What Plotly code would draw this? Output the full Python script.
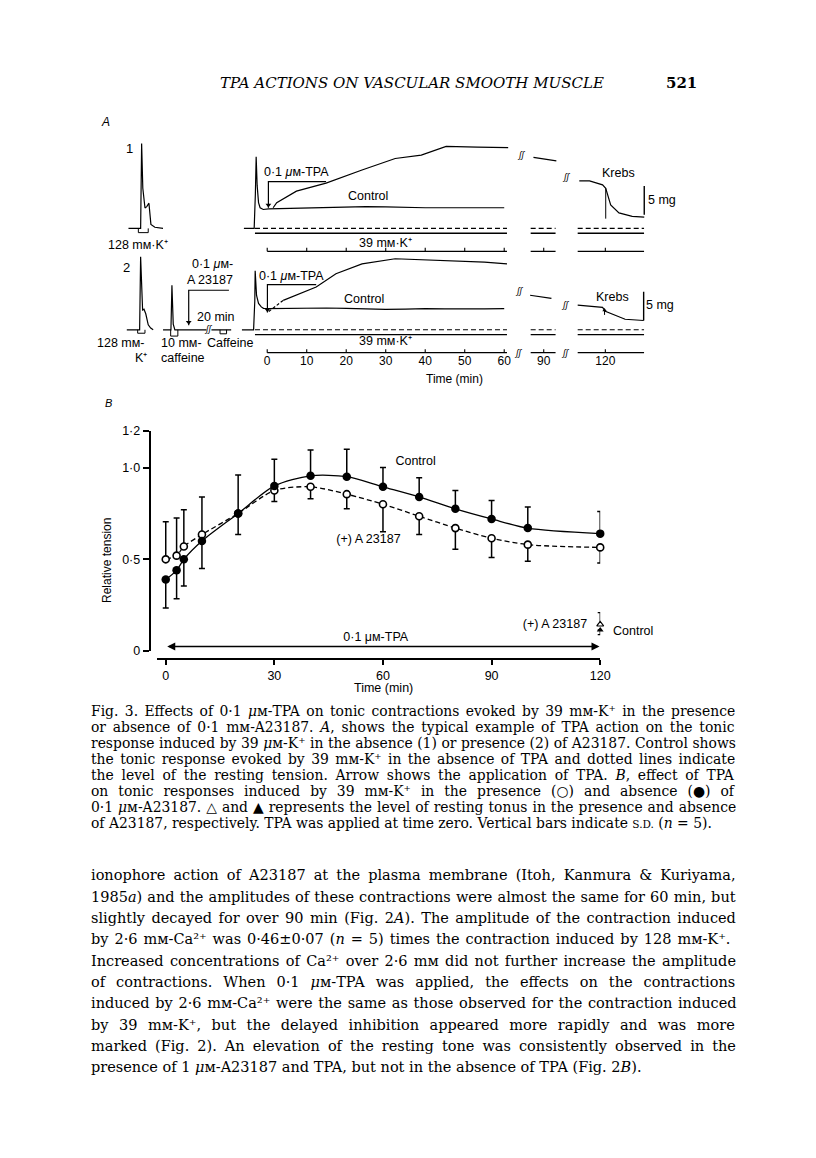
import re
import plotly.graph_objects as go

W, H = 816, 1158
PAD = 8                      # default page margin around the plot div
FW, FH = W - 2 * PAD, H - 2 * PAD
SANS = "Liberation Sans, Arial, sans-serif"
SERIF = "DejaVu Serif, serif"

# ---------------- Panel B: relative tension vs time ----------------
times = [0, 3, 5, 10, 20, 30, 40, 50, 60, 70, 80, 90, 100, 120]
control = [0.39, 0.44, 0.50, 0.60, 0.75, 0.90, 0.955, 0.95, 0.895, 0.84, 0.775, 0.72, 0.67, 0.64]
control_sd_up = [0, 0, 0, 0, 0, 0.145, 0.14, 0.15, 0.105, 0.105, 0.10, 0.10, 0.115, 0.12]
control_sd_down = [0.155, 0.155, 0.145, 0.15, 0.115, 0, 0, 0, 0, 0, 0, 0, 0, 0]
a23187 = [0.50, 0.52, 0.57, 0.635, 0.75, 0.875, 0.895, 0.855, 0.80, 0.735, 0.67, 0.615, 0.58, 0.565]
a23187_sd_up = [0.205, 0.205, 0.20, 0.205, 0.21, 0, 0, 0, 0, 0, 0, 0, 0, 0]
a23187_sd_down = [0, 0, 0, 0, 0, 0.06, 0.065, 0.08, 0.15, 0.10, 0.115, 0.105, 0.09, 0.085]

rest_time = [120]
rest_a23187 = [0.145]
rest_a23187_sd = [0.065]
rest_control = [0.115]
rest_control_sd = [0.025]

tpa_span = [0, 119.8]
tpa_level = 0.025

# ---------------- Panel A: chart records (time in min, tension in mg) ----------------
# row 1: without A23187, row 2: with A23187
r1_main_t = [-5.9, -3.3, -3.0, -2.8, -2.55, -2.2, -1.8, -1.0, 0.3, 5, 10, 15, 20, 25, 30, 35, 40, 45, 50, 55, 60]
r1_main_mg = [0, 0, 6, 12.5, 7.5, 4.5, 3.6, 3.3, 3.4, 3.5, 3.55, 3.6, 3.7, 3.8, 3.75, 3.65, 3.6, 3.6, 3.65, 3.6, 3.6]
r1_tpa_t = [1.5, 2.4, 7.4, 14.9, 24, 32.4, 39, 45.3, 53.2, 59, 61]
r1_tpa_mg = [3.6, 4.5, 6.5, 7.9, 10.2, 12.2, 12.8, 14.3, 14.2, 14.2, 14.1]
r1_late1_t = [87.4, 93.2]
r1_late1_mg = [12.4, 11.8]
r1_late2_t = [113.4, 116, 119.3, 120.1, 121.35, 123.45, 126.8, 129.85]
r1_late2_mg = [8.3, 8.3, 7.6, 7.0, 4.1, 2.7, 2.1, 1.95]

r2_main_t = [-6.4, -3.45, -3.15, -3.05, -2.7, -2.2, -1.5, -0.95, 0.1, 5, 10, 15, 20, 25, 30, 35, 40, 45, 50, 55, 60]
r2_main_mg = [0, 0, 5, 10.3, 6, 4.6, 4.0, 3.74, 3.7, 3.75, 3.7, 3.8, 3.75, 3.6, 3.55, 3.6, 3.7, 3.65, 3.6, 3.65, 3.7]
r2_tpa_early_t = [0.4, 4.05]
r2_tpa_early_mg = [3.2, 5.14]
r2_tpa_t = [4.05, 8, 12.4, 17.4, 24, 32.4, 40.6, 49, 55, 60.7]
r2_tpa_mg = [5.14, 6.2, 7.48, 9.78, 11.5, 12.4, 12.2, 11.97, 11.8, 11.5]
r2_late1_t = [86.55, 91.95]
r2_late1_mg = [6.03, 5.47]
r2_late2_t = [113, 119.3, 120, 121.8, 125, 129.7]
r2_late2_mg = [4.31, 3.91, 3.22, 2.7, 1.84, 1.62]

# short-time records on the left (min from start of each record)
k128_1_t = [0, 3.08, 3.33, 3.63, 4.18, 4.63, 5.18, 5.38, 5.68, 6.68, 8.75]
k128_1_mg = [0, 0, 14.8, 7, 3.56, 3.8, 4.4, 2.5, 0.7, 0.2, 0]
k128_2_t = [0, 3.25, 3.5, 3.75, 4.0, 4.35, 4.8, 5.43, 6.05, 6.68]
k128_2_mg = [0, 0, 12.76, 7, 3.45, 3.6, 2.8, 0.86, 0.3, 0]
caff_t = [0, 2, 2.25, 2.58, 3, 11]
caff_mg = [0, 0, 7.76, 1.0, 0, 0]
caff_tail_t = [12.25, 17.25]
caff_tail_mg = [0, 0]

rec_segments = [(-3.1, 60.7), (86.7, 93.0), (113.0, 129.8)]
axis_segments = [(0, 60.7), (86.7, 93.0), (113.0, 129.8)]
axis_ticks = [0, 10, 20, 30, 40, 50, 60, 90, 120]

# ---------------- geometry ----------------
ROW1 = 17.7               # row 1 resting level (mg) above row 2 resting level
A_X0, A_PX = 270.5, 4.0   # panel A: page pixel of t=0 and pixels per min
A_Y0, A_PY = 326.7, 5.8   # panel A: page pixel of row 2 rest and pixels per mg


def fx(px):
    return (px - PAD) / FW


def fy(py):
    return 1 - (py - PAD) / FH


def tx(t):
    # chart breaks between 60-90 and 90-120 min
    if t <= 65:
        return t
    if t <= 100:
        return t - 20
    return t - 34.4


fig = go.Figure()
INK = "black"


def rec(ts, mgs, base=0.0, off=None, width=1.2, dash=None):
    xs = [(off + t) if off is not None else tx(t) for t in ts]
    fig.add_trace(go.Scatter(x=xs, y=[m + base for m in mgs], mode="lines",
                             line=dict(color=INK, width=width, dash=dash),
                             xaxis="x2", yaxis="y2", hoverinfo="skip"))


def box(off, t0, t1, depth, base=0.0):
    rec([t0, t0, t1, t1], [0, -depth, -depth, 0], base=base, off=off, width=1.0)


def bracket(ts, mgs, base=0.0, off=None):
    rec(ts, mgs, base=base, off=off, width=1.2)
    x = (off + ts[-1]) if off is not None else tx(ts[-1])
    fig.add_trace(go.Scatter(x=[x], y=[mgs[-1] + base + 0.5], mode="markers",
                             marker=dict(symbol="triangle-down", size=5, color=INK),
                             xaxis="x2", yaxis="y2", hoverinfo="skip"))


for base in (ROW1, 0.0):
    # resting (dotted) and K+ application lines
    for a, b in rec_segments:
        rec([a, b], [0, 0], base=base, width=1.1, dash="5px,3px")
        rec([a, b], [-0.85, -0.85], base=base, width=1.3)
    # time scale
    for a, b in axis_segments:
        rec([a, b], [-4.0, -4.0], base=base, width=1.3)
    xs, ys = [], []
    for t in axis_ticks:
        xs += [tx(t), tx(t), None]
        ys += [base - 4.0, base - 3.4, None]
    fig.add_trace(go.Scatter(x=xs, y=ys, mode="lines", line=dict(color=INK, width=1.1),
                             xaxis="x2", yaxis="y2", hoverinfo="skip"))

# row 1
rec(r1_main_t, r1_main_mg, base=ROW1)
rec(r1_tpa_t, r1_tpa_mg, base=ROW1)
rec(r1_late1_t, r1_late1_mg, base=ROW1)
rec(r1_late2_t, r1_late2_mg, base=ROW1)
rec([120.1, 120.1], [7.0, 1.7], base=ROW1, width=1.0)            # Krebs
rec([129.85, 129.85], [2.4, 7.4], base=ROW1, width=1.4)          # 5 mg
bracket([14.9, 0.3, 0.3], [8.16, 8.16, 3.6], base=ROW1)
rec(k128_1_t, k128_1_mg, base=ROW1, off=-35.125)
box(-35.125, 2.5, 5.0, 0.74, base=ROW1)

# row 2
rec(r2_main_t, r2_main_mg)
rec(r2_tpa_early_t, r2_tpa_early_mg, dash="3px,2px")
rec(r2_tpa_t, r2_tpa_mg)
rec(r2_late1_t, r2_late1_mg)
rec(r2_late2_t, r2_late2_mg)
rec([119.8, 119.8], [2.6, 3.7], width=1.0)                        # Krebs
fig.add_trace(go.Scatter(x=[tx(119.8)], y=[3.4], mode="markers",
                         marker=dict(symbol="triangle-up", size=4, color=INK),
                         xaxis="x2", yaxis="y2", hoverinfo="skip"))
rec([129.7, 129.7], [1.62, 6.62], width=1.4)                      # 5 mg
bracket([12.4, 0.05, 0.05], [7.88, 7.88, 3.0])
rec(k128_2_t, k128_2_mg, off=-35.55)
box(-35.55, 2.75, 4.6, 0.6)
rec(caff_t, caff_mg, off=-26.375)
rec(caff_tail_t, caff_tail_mg, off=-26.375)
box(-26.375, 1.93, 3.75, 1.1)
box(-26.375, 14.43, 16.08, 0.7)
bracket([16.68, 6.5, 6.5], [6.9, 6.9, 0.8], off=-26.375)

# row 2 time labels
fig.add_trace(go.Scatter(x=[tx(t) for t in axis_ticks], y=[-5.6] * len(axis_ticks),
                         mode="text", text=[str(t) for t in axis_ticks],
                         textfont=dict(family=SANS, size=12, color=INK),
                         xaxis="x2", yaxis="y2", hoverinfo="skip", cliponaxis=False))

# ---------------- Panel B traces ----------------
fig.add_trace(go.Scatter(
    x=times, y=a23187, mode="lines+markers",
    line=dict(color=INK, width=1.3, dash="5px,3px", shape="spline", smoothing=0.8),
    marker=dict(symbol="circle", size=7, color="white", line=dict(color=INK, width=1.6)),
    error_y=dict(type="data", symmetric=False, array=a23187_sd_up, arrayminus=a23187_sd_down,
                 color=INK, thickness=1.5, width=3),
    cliponaxis=False, hoverinfo="skip"))
fig.add_trace(go.Scatter(
    x=times, y=control, mode="lines+markers",
    line=dict(color=INK, width=1.3, shape="spline", smoothing=0.8),
    marker=dict(symbol="circle", size=8.5, color=INK),
    error_y=dict(type="data", symmetric=False, array=control_sd_up, arrayminus=control_sd_down,
                 color=INK, thickness=1.5, width=3),
    cliponaxis=False, hoverinfo="skip"))
fig.add_trace(go.Scatter(
    x=rest_time, y=rest_a23187, mode="markers",
    marker=dict(symbol="triangle-up", size=6, color="white", line=dict(color=INK, width=1.2)),
    error_y=dict(type="data", symmetric=False, array=rest_a23187_sd, arrayminus=[0],
                 color=INK, thickness=1.3, width=2.5),
    cliponaxis=False, hoverinfo="skip"))
fig.add_trace(go.Scatter(
    x=rest_time, y=rest_control, mode="markers",
    marker=dict(symbol="triangle-up", size=6, color=INK),
    error_y=dict(type="data", symmetric=False, array=[0], arrayminus=rest_control_sd,
                 color=INK, thickness=1.3, width=2.5),
    cliponaxis=False, hoverinfo="skip"))
fig.add_trace(go.Scatter(
    x=[69, 56, 58, 107.5], y=[1.03, 0.608, 0.07, 0.145], mode="text",
    text=["Control", "(+) A 23187", "0·1 μм-TPA", "(+) A 23187"],
    textfont=dict(family=SANS, size=12.5, color=INK), cliponaxis=False, hoverinfo="skip"))

fig.add_annotation(x=tpa_span[1], y=tpa_level, ax=tpa_span[0], ay=tpa_level,
                   xref="x", yref="y", axref="x", ayref="y", showarrow=True,
                   arrowhead=2, arrowside="end+start", arrowsize=1, arrowwidth=1.6,
                   arrowcolor=INK, text="")


# ---------------- text ----------------
def label(text, px, py, size=12.5, family=SANS, xanchor="center", **kw):
    fig.add_annotation(text=text, x=fx(px), y=fy(py), xref="paper", yref="paper",
                       showarrow=False, xanchor=xanchor, yanchor="middle",
                       font=dict(size=size, family=family, color=INK), **kw)


label("<i>TPA ACTIONS ON VASCULAR SMOOTH MUSCLE</i>", 417, 77, size=15, family=SERIF)
label("<b>521</b>", 690, 77, size=15, family=SERIF)

# panel A labels
label("<i>A</i>", 107, 116, size=12)
label("1", 131, 143, size=13)
label("2", 128, 264, size=13)
label("128 mм·K⁺", 140, 241)
label("0·1 <i>μ</i>м-TPA", 300, 167)
label("Control", 373, 191)
label("39 mм·K⁺", 390, 239)
label("Krebs", 626, 168)
label("5 mg", 670, 195)
label("0·1 <i>μ</i>м-", 215, 260)
label("A 23187", 213, 276)
label("20 min", 219, 314)
label("0·1 <i>μ</i>м-TPA", 295, 272)
label("Control", 368, 296)
label("39 mм·K⁺", 390, 338)
label("Krebs", 620, 293)
label("5 mg", 668, 302)
label("128 mм-", 122, 340)
label("K⁺", 143, 355)
label("10 mм-", 184, 340)
label("caffeine", 185, 355)
label("Caffeine", 233, 340)
label("Time (min)", 460, 377, size=12)
for px, py in [(528, 150), (574, 172), (526, 287), (573, 302), (211, 326), (525, 350), (573, 350)]:
    label("<i>ʃʃ</i>", px, py, size=9)

# panel B labels
label("<i>B</i>", 110, 401, size=11)
label("Relative tension", 108, 560, size=12, textangle=-90)
label("Time (min)", 388, 689, size=12.5)
label("Control", 641, 632, size=12.5)

# ---------------- caption and body text (justified) ----------------
TEXT_LEFT, TEXT_WIDTH = 90, 643

caption = [
    "Fig. 3. Effects of 0·1 <i>μ</i>м-TPA on tonic contractions evoked by 39 mм-K⁺ in the presence",
    "or absence of 0·1 mм-A23187. <i>A</i>, shows the typical example of TPA action on the tonic",
    "response induced by 39 <i>μ</i>м-K⁺ in the absence (1) or presence (2) of A23187. Control shows",
    "the tonic response evoked by 39 mм-K⁺ in the absence of TPA and dotted lines indicate",
    "the level of the resting tension. Arrow shows the application of TPA. <i>B</i>, effect of TPA",
    "on tonic responses induced by 39 mм-K⁺ in the presence (○) and absence (●) of",
    "0·1 <i>μ</i>м-A23187. △ and ▲ represents the level of resting tonus in the presence and absence",
    "of A23187, respectively. TPA was applied at time zero. Vertical bars indicate "
    "<span style='font-size:10.5px'>S.D.</span> (<i>n</i> = 5).",
]
# natural line widths measured at 12.4 px
caption_natural = [547, 542, 572, 547, 529, 504, 566, None]

body = [
    "ionophore action of A23187 at the plasma membrane (Itoh, Kanmura & Kuriyama,",
    "1985<i>a</i>) and the amplitudes of these contractions were almost the same for 60 min, but",
    "slightly decayed for over 90 min (Fig. 2<i>A</i>). The amplitude of the contraction induced",
    "by 2·6 mм-Ca²⁺ was 0·46±0·07 (<i>n</i> = 5) times the contraction induced by 128 mм-K⁺.",
    "Increased concentrations of Ca²⁺ over 2·6 mм did not further increase the amplitude",
    "of contractions. When 0·1 <i>μ</i>м-TPA was applied, the effects on the contractions",
    "induced by 2·6 mм-Ca²⁺ were the same as those observed for the contraction induced",
    "by 39 mм-K⁺, but the delayed inhibition appeared more rapidly and was more",
    "marked (Fig. 2). An elevation of the resting tone was consistently observed in the",
    "presence of 1 <i>μ</i>м-A23187 and TPA, but not in the absence of TPA (Fig. 2<i>B</i>).",
]
# natural line widths measured at 14.2 px
body_natural = [592, 623, 606, 611, 610, 561, 616, 560, 586, None]


def justified(lines, natural, ref_size, size, top, step):
    for i, (line, w) in enumerate(zip(lines, natural)):
        text = line
        if w is not None:
            gaps = re.sub(r"<[^>]+>", "", line).count(" ")
            extra = (TEXT_WIDTH - w * size / ref_size) / max(gaps, 1)
            if extra > 0:
                text = "<span style='word-spacing:%.2fpx'>%s</span>" % (extra, line)
        label(text, TEXT_LEFT, top + step * i, size=size, family=SERIF, xanchor="left")


justified(caption, caption_natural, 12.4, 13.9, 713, 16.2)
justified(body, body_natural, 14.2, 14.5, 879, 21.6)

# ---------------- layout ----------------
fig.update_layout(
    width=FW, height=FH, margin=dict(l=0, r=0, t=0, b=0),
    paper_bgcolor="white", plot_bgcolor="white", showlegend=False,
    xaxis=dict(domain=[fx(159.3), fx(607.7)], range=[-2.3, 120], anchor="free",
               position=fy(660), showline=True, linewidth=2, linecolor=INK,
               ticks="outside", ticklen=5, tickwidth=1.5, tickcolor=INK,
               tickvals=[0, 30, 60, 90, 120], showgrid=False, zeroline=False,
               tickfont=dict(family=SANS, size=12.5, color=INK)),
    yaxis=dict(domain=[fy(652), fy(429)], range=[0, 1.2], anchor="free",
               position=fx(151.5), showline=True, linewidth=2, linecolor=INK,
               ticks="outside", ticklen=6, tickwidth=1.5, tickcolor=INK,
               tickvals=[0, 0.5, 1.0, 1.2], ticktext=["0", "0·5", "1·0", "1·2"],
               showgrid=False, zeroline=False,
               tickfont=dict(family=SANS, size=12.5, color=INK)),
    xaxis2=dict(domain=[fx(100), fx(720)], range=[(100 - A_X0) / A_PX, (720 - A_X0) / A_PX],
                anchor="y2", visible=False),
    yaxis2=dict(domain=[fy(390), fy(100)], range=[(A_Y0 - 390) / A_PY, (A_Y0 - 100) / A_PY],
                anchor="x2", visible=False),
)

fig.write_html("out.html")
